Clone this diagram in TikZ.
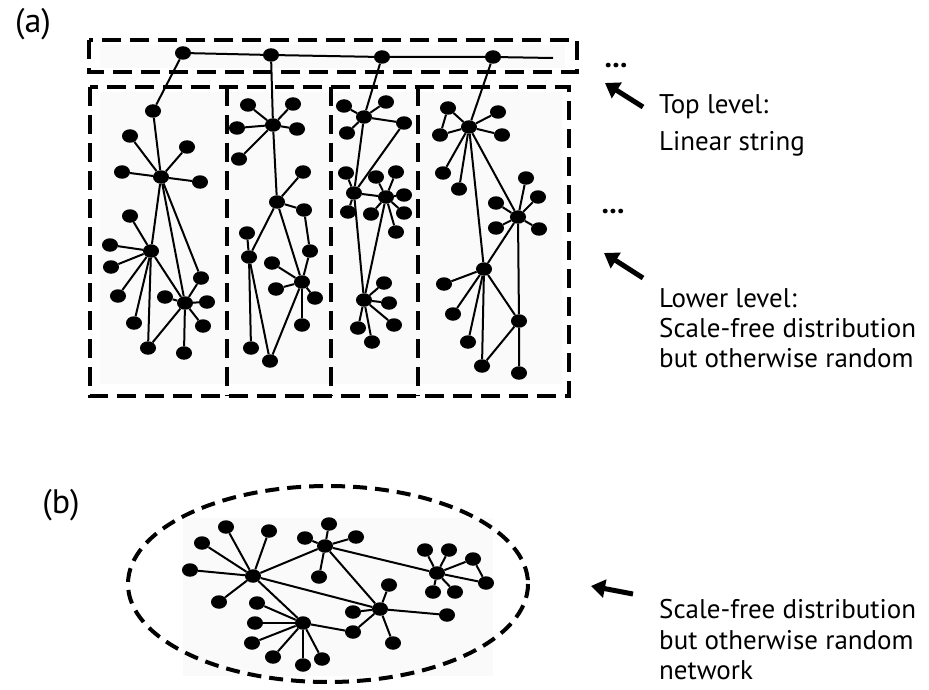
\documentclass[tikz,border=0pt]{standalone}
\usepackage{fontspec}
\setmainfont{PT Sans}
\usetikzlibrary{arrows.meta,shapes.geometric}
\tikzset{
  dot/.style={ellipse,fill=black,inner sep=0pt,minimum width=16pt,minimum height=13.5pt},
  link/.style={line width=2pt},
  frame/.style={line width=4pt,dash pattern=on 19pt off 9pt},
  oval/.style={line width=4pt,dash pattern=on 14pt off 8pt},
  pointer/.style={line width=5pt,-{Triangle[length=14pt,width=18pt]}},
  caption/.style={anchor=base west,inner sep=0pt,font=\fontsize{27}{30}\selectfont},
  panel/.style={font=\fontsize{34}{36}\selectfont},
  more/.style={font=\fontsize{30}{30}\selectfont\bfseries,anchor=base}
}
\begin{document}
\begin{tikzpicture}[x=1pt,y=-1pt]
\useasboundingbox (0,0) rectangle (929,690);
% faint backgrounds
\fill[black!2] (100,45) rectangle (565,68);
\fill[black!2] (100,92) rectangle (562,384);
\fill[black!2] (183,518) rectangle (493,676);
% frames of part (a)
\draw[frame] (89,40) rectangle (577,72);
\draw[frame] (90,87) rectangle (569,396);
\draw[frame] (227,87) -- (227,396);
\draw[frame] (331,87) -- (331,396);
\draw[frame] (418,87) -- (418,396);
% frame of part (b)
\draw[oval] (328,584) ellipse [x radius=200, y radius=98];

% top level: linear string
\node[dot] (t1) at (183,53) {};
\node[dot] (t2) at (271,55) {};
\node[dot] (t3) at (382,57) {};
\node[dot] (t4) at (493,57) {};
\coordinate (tend) at (553,58);
\draw[link] (t1)--(t2)--(t3)--(t4)--(tend);

% column 1
\node[dot] (a0) at (153,111) {};
\node[dot] (a1) at (161,177) {};
\node[dot] (a11) at (130,136) {};
\node[dot] (a12) at (187,147) {};
\node[dot] (a13) at (122,172) {};
\node[dot] (a14) at (200,182) {};
\node[dot] (a2) at (151,251) {};
\node[dot] (a21) at (130,216) {};
\node[dot] (a22) at (110,245) {};
\node[dot] (a23) at (111,267) {};
\node[dot] (a24) at (118,296) {};
\node[dot] (a25) at (134,323) {};
\node[dot] (a5) at (148,348) {};
\node[dot] (a3) at (185,303) {};
\node[dot] (a31) at (201,278) {};
\node[dot] (a32) at (165,297) {};
\node[dot] (a33) at (207,302) {};
\node[dot] (a34) at (203,326) {};
\node[dot] (a35) at (184,353) {};
\draw[link] (t1)--(a0)--(a1);
\draw[link] (a1)--(a11); \draw[link] (a1)--(a12);
\draw[link] (a1)--(a13); \draw[link] (a1)--(a14);
\draw[link] (a1)--(a2); \draw[link] (a1)--(a3); \draw[link] (a1)--(a31);
\draw[link] (a2)--(a21); \draw[link] (a2)--(a22); \draw[link] (a2)--(a23);
\draw[link] (a2)--(a24); \draw[link] (a2)--(a25);
\draw[link] (a2)--(a3); \draw[link] (a2)--(a5); \draw[link] (a3)--(a5);
\draw[link] (a3)--(a31); \draw[link] (a3)--(a32); \draw[link] (a3)--(a33);
\draw[link] (a3)--(a34); \draw[link] (a3)--(a35);

% column 2
\node[dot] (b1) at (273,125) {};
\node[dot] (b11) at (248,105) {};
\node[dot] (b12) at (293,104) {};
\node[dot] (b13) at (237,128) {};
\node[dot] (b14) at (297,129) {};
\node[dot] (b15) at (239,159) {};
\node[dot] (b2) at (277,202) {};
\node[dot] (b21) at (303,172) {};
\node[dot] (b22) at (304,210) {};
\node[dot] (b23) at (310,251) {};
\node[dot] (b3) at (302,282) {};
\node[dot] (b31) at (272,263) {};
\node[dot] (b32) at (276,289) {};
\node[dot] (b33) at (315,298) {};
\node[dot] (b34) at (302,325) {};
\node[dot] (b4) at (249,257) {};
\node[dot] (b41) at (247,233) {};
\node[dot] (b42) at (251,348) {};
\node[dot] (b5) at (270,361) {};
\draw[link] (t2)--(b1)--(b2);
\draw[link] (b1)--(b11); \draw[link] (b1)--(b12); \draw[link] (b1)--(b13);
\draw[link] (b1)--(b14); \draw[link] (b1)--(b15);
\draw[link] (b2)--(b21); \draw[link] (b2)--(b22)--(b23)--(b3);
\draw[link] (b2)--(b3); \draw[link] (b2)--(b4);
\draw[link] (b4)--(b41); \draw[link] (b4)--(b42); \draw[link] (b4)--(b5)--(b3);
\draw[link] (b3)--(b31); \draw[link] (b3)--(b32); \draw[link] (b3)--(b33);
\draw[link] (b3)--(b34);

% column 3
\node[dot] (c1) at (364,117) {};
\node[dot] (c11) at (344,106) {};
\node[dot] (c12) at (386,102) {};
\node[dot] (c13) at (347,133) {};
\node[dot] (c14) at (404,123) {};
\node[dot] (c2) at (354,193) {};
\node[dot] (c21) at (346,173) {};
\node[dot] (c22) at (348,212) {};
\node[dot] (c3) at (386,197) {};
\node[dot] (c31) at (376,177) {};
\node[dot] (c32) at (396,172) {};
\node[dot] (c33) at (404,195) {};
\node[dot] (c34) at (404,213) {};
\node[dot] (c35) at (371,214) {};
\node[dot] (c36) at (396,232) {};
\node[dot] (c4) at (364,300) {};
\node[dot] (c41) at (384,283) {};
\node[dot] (c42) at (389,303) {};
\node[dot] (c43) at (394,325) {};
\node[dot] (c44) at (358,328) {};
\node[dot] (c45) at (372,342) {};
\draw[link] (t3)--(c1)--(c2);
\draw[link] (c1)--(c11); \draw[link] (c1)--(c12); \draw[link] (c1)--(c13);
\draw[link] (c1)--(c14)--(c2);
\draw[link] (c2)--(c21); \draw[link] (c2)--(c22);
\draw[link] (c2)--(c3); \draw[link] (c2)--(c4); \draw[link] (c3)--(c4);
\draw[link] (c3)--(c31); \draw[link] (c3)--(c32); \draw[link] (c3)--(c33);
\draw[link] (c3)--(c34); \draw[link] (c3)--(c35); \draw[link] (c3)--(c36);
\draw[link] (c4)--(c41); \draw[link] (c4)--(c42); \draw[link] (c4)--(c43);
\draw[link] (c4)--(c44); \draw[link] (c4)--(c45);

% column 4
\node[dot] (d1) at (469,127) {};
\node[dot] (d11) at (448,108) {};
\node[dot] (d12) at (498,112) {};
\node[dot] (d13) at (440,135) {};
\node[dot] (d14) at (502,135) {};
\node[dot] (d15) at (443,173) {};
\node[dot] (d16) at (459,189) {};
\node[dot] (d2) at (518,217) {};
\node[dot] (d21) at (526,178) {};
\node[dot] (d22) at (538,197) {};
\node[dot] (d23) at (496,203) {};
\node[dot] (d24) at (496,228) {};
\node[dot] (d25) at (539,229) {};
\node[dot] (d3) at (484,269) {};
\node[dot] (d31) at (444,284) {};
\node[dot] (d32) at (453,314) {};
\node[dot] (d33) at (468,342) {};
\node[dot] (d34) at (482,366) {};
\node[dot] (d4) at (519,321) {};
\node[dot] (d5) at (519,373) {};
\draw[link] (t4)--(d1);
\draw[link] (d1)--(d11)--(d13)--(d1); \draw[link] (d1)--(d12);
\draw[link] (d1)--(d14); \draw[link] (d1)--(d15); \draw[link] (d1)--(d16);
\draw[link] (d1)--(d2); \draw[link] (d1)--(d3); \draw[link] (d2)--(d3);
\draw[link] (d2)--(d21); \draw[link] (d2)--(d22); \draw[link] (d2)--(d23);
\draw[link] (d2)--(d24); \draw[link] (d2)--(d25);
\draw[link] (d3)--(d31); \draw[link] (d3)--(d32); \draw[link] (d3)--(d33);
\draw[link] (d3)--(d34)--(d4); \draw[link] (d3)--(d4);
\draw[link] (d2)--(d4)--(d5);

% part (b)
\node[dot] (p) at (253,576) {};
\node[dot] (p1) at (226,527) {};
\node[dot] (p2) at (269,531) {};
\node[dot] (p3) at (202,543) {};
\node[dot] (p4) at (190,570) {};
\node[dot] (p5) at (219,602) {};
\node[dot] (q) at (303,623) {};
\node[dot] (q1) at (257,603) {};
\node[dot] (q2) at (255,623) {};
\node[dot] (q3) at (252,643) {};
\node[dot] (q4) at (273,657) {};
\node[dot] (q5) at (303,665) {};
\node[dot] (q6) at (322,659) {};
\node[dot] (r) at (325,546) {};
\node[dot] (r1) at (329,524) {};
\node[dot] (r2) at (305,538) {};
\node[dot] (r3) at (319,577) {};
\node[dot] (r4) at (356,537) {};
\node[dot] (u) at (380,609) {};
\node[dot] (u1) at (389,585) {};
\node[dot] (u2) at (353,612) {};
\node[dot] (u3) at (393,643) {};
\node[dot] (u4) at (447,615) {};
\node[dot] (w) at (353,632) {};
\node[dot] (s) at (437,573) {};
\node[dot] (s1) at (425,550) {};
\node[dot] (s2) at (449,550) {};
\node[dot] (s3) at (473,559) {};
\node[dot] (s4) at (486,583) {};
\node[dot] (s5) at (433,592) {};
\node[dot] (s6) at (455,592) {};
\draw[link] (p)--(p1); \draw[link] (p)--(p2); \draw[link] (p)--(p3);
\draw[link] (p)--(p4); \draw[link] (p)--(p5);
\draw[link] (p)--(q); \draw[link] (p)--(r); \draw[link] (p)--(u);
\draw[link] (q)--(q1); \draw[link] (q)--(q2); \draw[link] (q)--(q3);
\draw[link] (q)--(q4); \draw[link] (q)--(q5); \draw[link] (q)--(q6);
\draw[link] (q)--(w)--(u);
\draw[link] (r)--(r1); \draw[link] (r)--(r2); \draw[link] (r)--(r3);
\draw[link] (r)--(r4); \draw[link] (r)--(s); \draw[link] (r)--(u);
\draw[link] (u)--(u1); \draw[link] (u)--(u2); \draw[link] (u)--(u3);
\draw[link] (u)--(u4);
\draw[link] (s)--(s1); \draw[link] (s)--(s2); \draw[link] (s)--(s3)--(s4)--(s);
\draw[link] (s)--(s5); \draw[link] (s)--(s6);

% labels
\node[panel] (la) at (33,24) {(a)};
\node[panel] (lb) at (61,505) {(b)};
\node[more] (dots1) at (616,68) {...};
\node[more] (dots2) at (613,213) {...};
\coordinate (ar1s) at (643,107); \coordinate (ar1e) at (605,83);
\coordinate (ar2s) at (643,278); \coordinate (ar2e) at (604,253);
\coordinate (ar3s) at (633,594); \coordinate (ar3e) at (591,586);
\draw[pointer] (ar1s) -- (ar1e);
\draw[pointer] (ar2s) -- (ar2e);
\draw[pointer] (ar3s) -- (ar3e);
\node[caption] (top1) at (659,114) {Top level:};
\node[caption] (top2) at ([yshift=-36pt]top1.base west) {Linear string};
\node[caption] (low1) at (659,307) {Lower level:};
\node[caption] (low2) at ([yshift=-30pt]low1.base west) {Scale-free distribution};
\node[caption] (low3) at ([yshift=-30pt]low2.base west) {but otherwise random};
\node[caption] (net1) at (659,618) {Scale-free distribution};
\node[caption] (net2) at ([yshift=-31pt]net1.base west) {but otherwise random};
\node[caption] (net3) at ([yshift=-30pt]net2.base west) {network};
\end{tikzpicture}
\end{document}
